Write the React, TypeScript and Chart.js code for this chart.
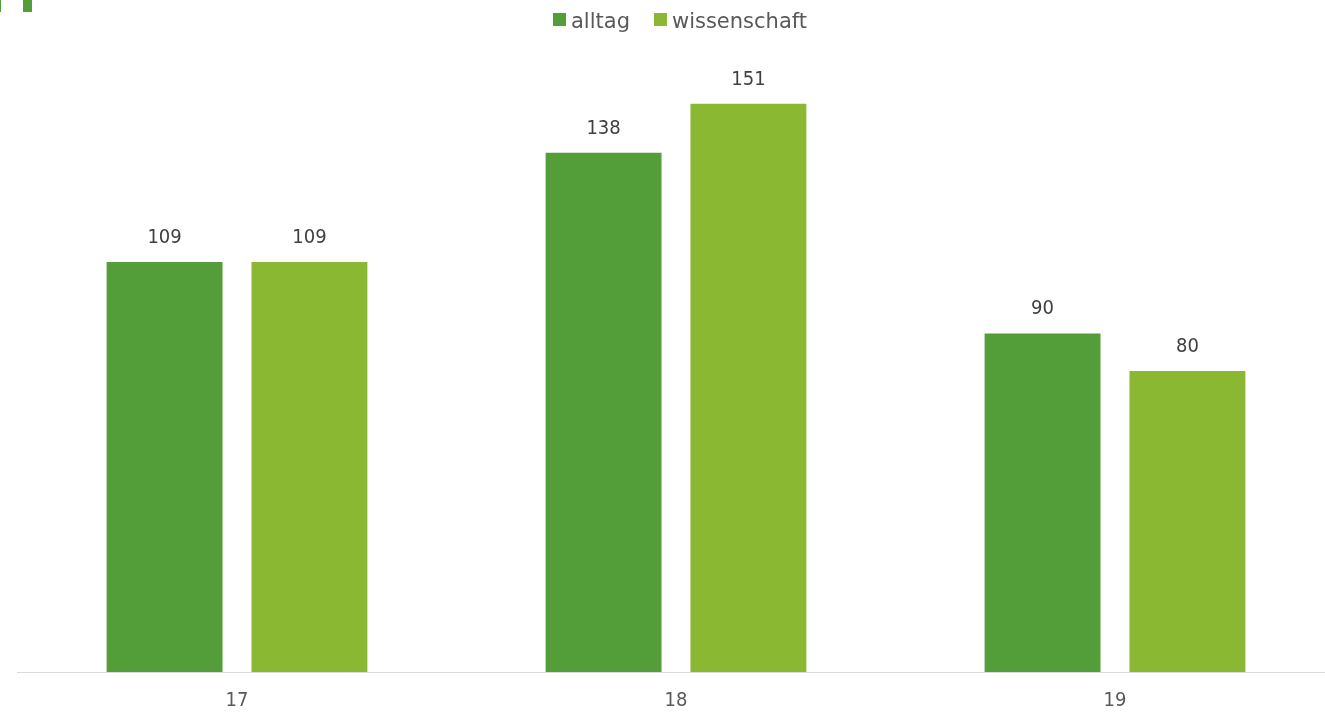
import React, { useEffect, useRef } from "react";
import { Chart, registerables } from "chart.js";

Chart.register(...registerables);

const categories = ["17", "18", "19"];
const alltagValues = [109, 138, 90];
const wissenschaftValues = [109, 151, 80];
const seriesNames = ["alltag", "wissenschaft"];
const seriesColors = ["#549E39", "#8AB833"];

const valueLabelPlugin = {
  id: "valueLabels",
  afterDatasetsDraw(chart: any) {
    const ctx = chart.ctx;
    ctx.save();
    ctx.font = '20px "DejaVu Sans Condensed", "DejaVu Sans", sans-serif';
    ctx.fillStyle = "#404040";
    ctx.textAlign = "center";
    ctx.textBaseline = "alphabetic";
    chart.data.datasets.forEach((ds: any, i: number) => {
      const meta = chart.getDatasetMeta(i);
      meta.data.forEach((el: any, j: number) => {
        ctx.fillText(String(ds.data[j]), el.x, el.y - 19);
      });
    });
    ctx.restore();
  },
};

const customLegendPlugin = {
  id: "customLegend",
  afterDraw(chart: any) {
    const ctx = chart.ctx;
    ctx.save();
    ctx.font = '21px "DejaVu Sans", sans-serif';
    const box = 13;
    const gapBoxText = 5;
    const gapItems = 24;
    const items = chart.data.datasets.map((ds: any) => ({
      label: ds.label,
      color: ds.backgroundColor,
      w: ctx.measureText(ds.label).width,
    }));
    let total = 0;
    items.forEach((it: any, i: number) => {
      total += box + gapBoxText + it.w + (i < items.length - 1 ? gapItems : 0);
    });
    const center = (chart.chartArea.left + chart.chartArea.right) / 2 + 4;
    let x = center - total / 2;
    const boxTop = 13;
    const baseline = 28;
    items.forEach((it: any) => {
      ctx.fillStyle = it.color;
      ctx.fillRect(x, boxTop, box, box);
      x += box + gapBoxText;
      ctx.fillStyle = "#595959";
      ctx.textAlign = "left";
      ctx.textBaseline = "alphabetic";
      ctx.fillText(it.label, x, baseline);
      x += it.w + gapItems;
    });
    ctx.restore();
  },
};

export default function App() {
  const canvasRef = useRef<HTMLCanvasElement | null>(null);

  useEffect(() => {
    if (!canvasRef.current) return;
    const chart = new Chart(canvasRef.current, {
      type: "bar",
      data: {
        labels: categories,
        datasets: [
          {
            label: seriesNames[0],
            data: alltagValues,
            backgroundColor: seriesColors[0],
            categoryPercentage: 0.66,
            barPercentage: 0.8,
          },
          {
            label: seriesNames[1],
            data: wissenschaftValues,
            backgroundColor: seriesColors[1],
            categoryPercentage: 0.66,
            barPercentage: 0.8,
          },
        ],
      },
      options: {
        responsive: false,
        animation: false,
        layout: { padding: { top: 70, left: 17.5, right: 5.5, bottom: 2 } },
        plugins: {
          legend: { display: false },
          tooltip: { enabled: false },
        },
        scales: {
          x: {
            grid: { display: false, drawTicks: false },
            border: { display: true, color: "#D9D9D9", width: 1 },
            ticks: {
              color: "#595959",
              font: { family: '"DejaVu Sans Condensed", "DejaVu Sans", sans-serif', size: 20 },
              padding: 17,
            },
          },
          y: {
            display: false,
            min: 0,
            max: 160,
          },
        },
      },
      plugins: [valueLabelPlugin, customLegendPlugin],
    });
    return () => chart.destroy();
  }, []);

  return (
    <div
      style={{
        position: "absolute",
        left: 0,
        top: 0,
        width: 1325,
        height: 714,
        overflow: "hidden",
        background: "#ffffff",
      }}
    >
      <canvas ref={canvasRef} width={1340} height={732} style={{ display: "block" }} />
      <div style={{ position: "absolute", left: 0, top: 0, width: 1, height: 12, background: "#549E39" }} />
      <div style={{ position: "absolute", left: 23, top: 0, width: 9, height: 12, background: "#549E39" }} />
    </div>
  );
}
